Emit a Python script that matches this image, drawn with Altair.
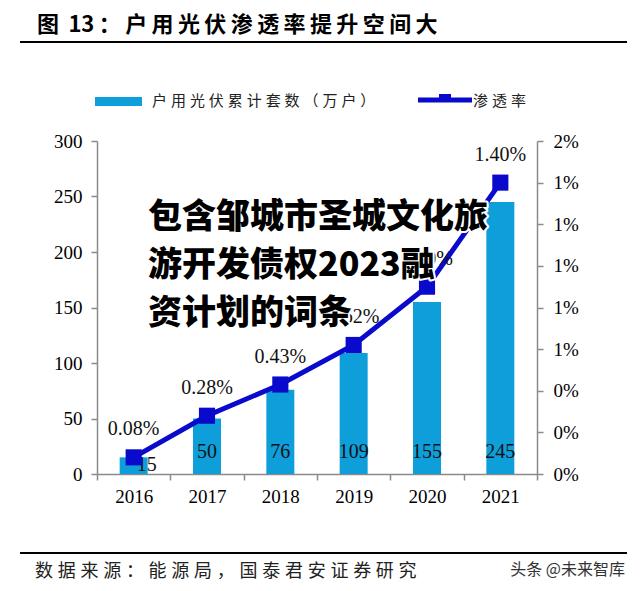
import altair as alt
import pandas as pd

years = ["2016", "2017", "2018", "2019", "2020", "2021"]
installs = [15, 50, 76, 109, 155, 245]          # 户用光伏累计套数（万户）
penetration = [0.08, 0.28, 0.43, 0.62, 0.90, 1.40]  # 渗透率 (%)
left_ticks = [0, 50, 100, 150, 200, 250, 300]
right_ticks = [0, 0.2, 0.4, 0.6, 0.8, 1.0, 1.2, 1.4, 1.6]

title_text = "图 13：户用光伏渗透率提升空间大"
legend_bar = "户用光伏累计套数（万户）"
legend_line = "渗透率"
source_text = "数据来源：能源局，国泰君安证券研究"
credit_text = "头条 @未来智库"
overlay_lines = ["包含邹城市圣城文化旅", "游开发债权2023融", "资计划的词条"]

BAR = "#0E9FDB"
LINE = "#0A0ACC"
AXIS = "#8a8a8a"
SERIF = "Liberation Serif"
CJK = "Noto Sans CJK SC"


def spaced(s, sep="\u2009"):
    out = ""
    for i, ch in enumerate(s):
        if i > 0 and not (ch.isascii() and s[i - 1].isascii()):
            out += sep
        out += ch
    return out


df = pd.DataFrame({
    "year": years,
    "installs": installs,
    "pct": penetration,
    "pct_label": [f"{v:.2f}%" for v in penetration],
})

x_enc = alt.X(
    "year:N",
    scale=alt.Scale(paddingInner=0, paddingOuter=0),
    axis=alt.Axis(
        title=None, labelAngle=0, tickBand="extent", domainColor=AXIS,
        tickColor=AXIS, domainWidth=1.5, tickWidth=1.5, tickSize=6,
        labelFont=SERIF, labelFontSize=19, labelColor="#000", labelPadding=7,
    ),
)

y_left = alt.Y(
    "installs:Q",
    scale=alt.Scale(domain=[0, 300], nice=False),
    axis=alt.Axis(
        title=None, orient="left", values=left_ticks, grid=False,
        domainColor=AXIS, tickColor=AXIS, domainWidth=1.5, tickWidth=1.5,
        tickSize=6, labelFont=SERIF, labelFontSize=19, labelColor="#000",
        labelPadding=9,
    ),
)

base = alt.Chart(df)

bars = base.mark_bar(color=BAR, size=28).encode(x=x_enc, y=y_left)
bar_labels = base.transform_filter("datum.year != '2016'").mark_text(
    font=SERIF, fontSize=20, color="#111", baseline="middle"
).encode(x=x_enc, y=alt.YDatum(20), text="installs:Q")
bar_label_first = base.transform_filter("datum.year == '2016'").mark_text(
    font=SERIF, fontSize=20, color="#111", baseline="middle", dx=13
).encode(x=x_enc, y=alt.YDatum(8), text="installs:Q")

left_layer = alt.layer(bars, bar_labels, bar_label_first)

y_right = alt.Y(
    "pct:Q",
    scale=alt.Scale(domain=[0, 1.6], nice=False),
    axis=alt.Axis(
        title=None, orient="right", values=right_ticks, grid=False,
        labelExpr="format(datum.value/100, '.0%')",
        domainColor=AXIS, tickColor=AXIS, domainWidth=1.5, tickWidth=1.5,
        tickSize=6, labelFont=SERIF, labelFontSize=19, labelColor="#000",
        labelPadding=10,
    ),
)

line = base.mark_line(color=LINE, strokeWidth=5).encode(x=x_enc, y=y_right)
points = base.mark_point(shape="square", filled=True, size=260, opacity=1, color=LINE).encode(
    x=x_enc, y=y_right
)
pct_labels = base.mark_text(
    font=SERIF, fontSize=20, color="#111", baseline="middle", dy=-28
).encode(x=x_enc, y=y_right, text="pct_label:N")

right_layer = alt.layer(line, points, pct_labels)

main = alt.layer(left_layer, right_layer).resolve_scale(y="independent")


def label(text, x, y, size, font, weight="normal", color="#000", align="left",
          stroke=None, stroke_width=0):
    kw = dict(align=align, baseline="middle", font=font, fontSize=size,
              fontWeight=weight, color=color)
    if stroke:
        kw.update(stroke=stroke, strokeWidth=stroke_width, strokeJoin="round")
    return alt.Chart(pd.DataFrame({"t": [text]})).mark_text(**kw).encode(
        x=alt.value(x), y=alt.value(y), text="t:N"
    )


one = pd.DataFrame({"a": [0]})

overlay = []
for i, t in enumerate(overlay_lines):
    overlay.append(label(t, 51, 77 + 48 * i, 34, CJK, weight=900, color="#fff",
                         stroke="#fff", stroke_width=4))
for i, t in enumerate(overlay_lines):
    overlay.append(label(t, 51, 77 + 48 * i, 34, CJK, weight=900, color="#000"))

title = label(spaced(title_text, "\u2009"), -60, -116, 22, CJK, weight="bold")
title_rule = alt.Chart(one).mark_rule(color="#000", strokeWidth=2).encode(
    x=alt.value(-77), x2=alt.value(530), y=alt.value(-99)
)
leg_rect = alt.Chart(one).mark_rect(color=BAR).encode(
    x=alt.value(-2), x2=alt.value(45), y=alt.value(-44), y2=alt.value(-35)
)
leg_text1 = label(spaced(legend_bar, "\u2009\u200a"), 55, -40, 15, CJK, color="#222")
leg_line = alt.Chart(one).mark_rule(color=LINE, strokeWidth=5).encode(
    x=alt.value(321), x2=alt.value(375), y=alt.value(-41)
)
leg_mark = alt.Chart(one).mark_rect(color=LINE).encode(
    x=alt.value(342), x2=alt.value(354), y=alt.value(-47), y2=alt.value(-40)
)
leg_text2 = label(spaced(legend_line, "\u2009\u200a"), 376, -40, 15, CJK, color="#222")
foot_rule = alt.Chart(one).mark_rule(color="#000", strokeWidth=2).encode(
    x=alt.value(-77), x2=alt.value(530), y=alt.value(412)
)
foot_text = label(spaced(source_text, "\u2009\u200a"), -62, 431, 18, CJK, color="#222")
credit = label(credit_text, 528, 429, 16, CJK, color="#333", align="right")

chart = alt.layer(
    main, *overlay, title, title_rule, leg_rect, leg_text1, leg_line, leg_mark,
    leg_text2, foot_rule, foot_text, credit
).properties(
    width=440, height=333,
    autosize=alt.AutoSizeParams(type="none"),
    padding={"left": 89, "top": 133, "right": 95, "bottom": 109},
    background="white",
).configure_view(stroke=None)

chart.save("out.html", embed_options={"renderer": "svg", "actions": False})
